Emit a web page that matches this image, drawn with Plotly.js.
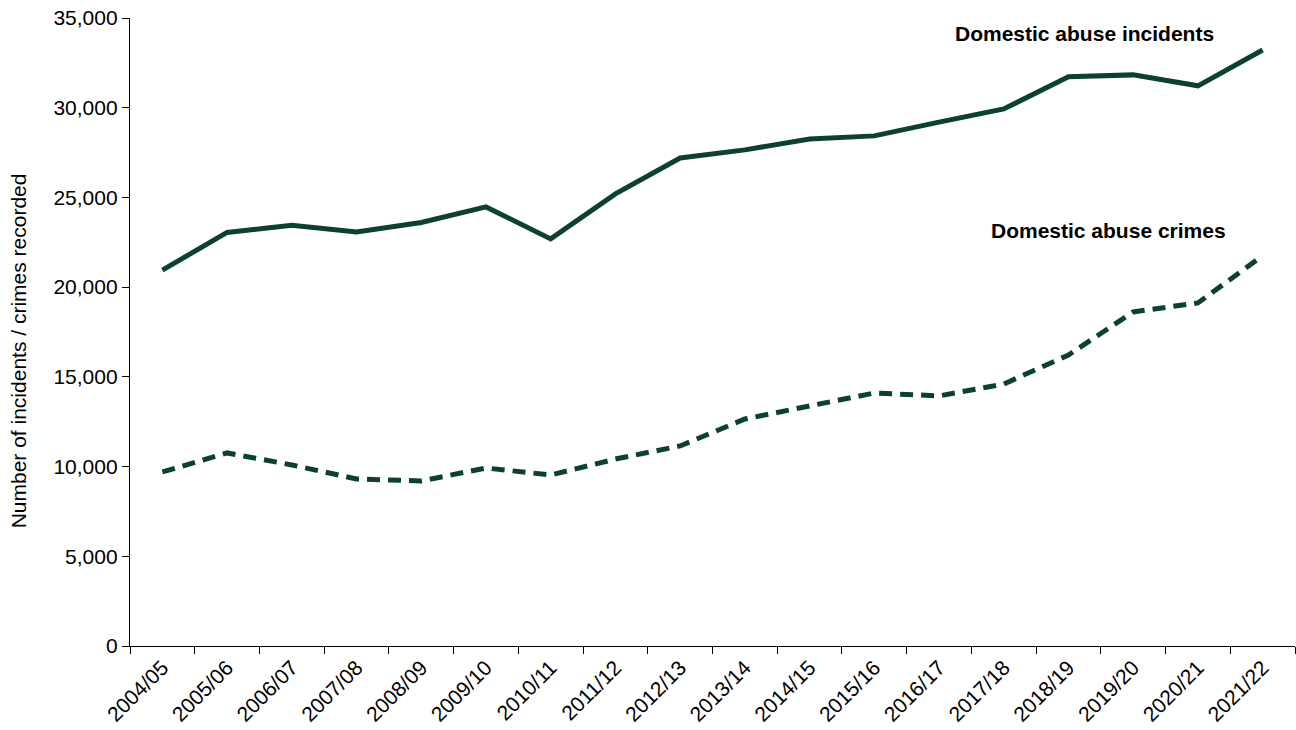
<!DOCTYPE html>
<html>
<head>
<meta charset="utf-8">
<script src="https://cdn.plot.ly/plotly-3.0.1.min.js"></script>
<style>html,body{margin:0;padding:0;background:#fff;}#chart{width:1296px;height:730px;}</style>
</head>
<body>
<div id="chart"></div>
<script>
const years = ["2004/05","2005/06","2006/07","2007/08","2008/09","2009/10","2010/11","2011/12","2012/13","2013/14","2014/15","2015/16","2016/17","2017/18","2018/19","2019/20","2020/21","2021/22"];
const incidents = [20950,23050,23450,23070,23600,24470,22690,25200,27200,27650,28260,28430,29200,29930,31720,31830,31220,33220];
const crimes = [9700,10760,10090,9310,9200,9920,9530,10420,11150,12650,13380,14100,13940,14600,16220,18620,19120,21750];

const lineColor = "#0d4034";
const traces = [
  {x: years, y: incidents, type: "scatter", mode: "lines", name: "Domestic abuse incidents",
   line: {color: lineColor, width: 5}},
  {x: years, y: crimes, type: "scatter", mode: "lines", name: "Domestic abuse crimes",
   line: {color: lineColor, width: 5, dash: "13px,8px"}}
];
const layout = {
  width: 1296, height: 730,
  margin: {l: 130, r: 1, t: 18, b: 84},
  paper_bgcolor: "#fff", plot_bgcolor: "#fff",
  showlegend: false,
  font: {family: "Liberation Sans, Arial, sans-serif", size: 21, color: "#000"},
  xaxis: {
    type: "category", tickangle: -45, tickson: "boundaries", automargin: false,
    showline: true, linecolor: "#000", linewidth: 1.3,
    ticks: "outside", ticklen: 7, tickcolor: "#000", tickwidth: 1.3,
    showgrid: false, zeroline: false, range: [-0.5, 17.5],
    tickfont: {size: 21}
  },
  yaxis: {
    range: [0, 35000], dtick: 5000, tickformat: ",d", automargin: false,
    showline: true, linecolor: "#000", linewidth: 1.3,
    ticks: "outside", ticklen: 7, tickcolor: "#000", tickwidth: 1.3,
    showgrid: false, zeroline: false,
    tickfont: {size: 21}
  },
  annotations: [
    {xref: "paper", yref: "paper", x: -0.0957, y: 0.47, text: "Number of incidents / crimes recorded",
     textangle: -90, showarrow: false, font: {size: 21, color: "#000"}, xanchor: "center", yanchor: "middle"},
    {xref: "paper", yref: "paper", x: 0.8197, y: 0.976, text: "<b>Domestic abuse incidents</b>",
     showarrow: false, font: {size: 21, color: "#000"}, xanchor: "center", yanchor: "middle"},
    {xref: "paper", yref: "paper", x: 0.8395, y: 0.662, text: "<b>Domestic abuse crimes</b>",
     showarrow: false, font: {size: 21, color: "#000"}, xanchor: "center", yanchor: "middle"}
  ]
};
Plotly.newPlot("chart", traces, layout, {displayModeBar: false});
</script>
</body>
</html>
